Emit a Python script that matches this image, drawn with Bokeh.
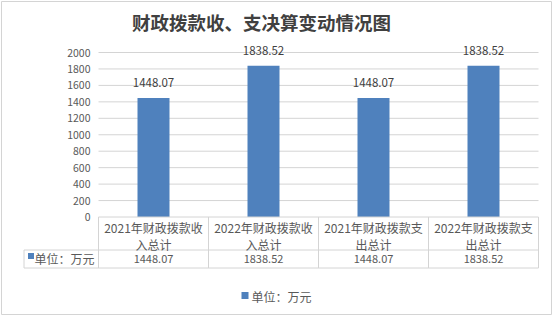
from bokeh.plotting import figure
from bokeh.models import Range1d
from bokeh.core.properties import value
from bokeh.embed import file_html
from bokeh.resources import INLINE

# ---- data ----
title_text = "财政拨款收、支决算变动情况图"
categories = ["2021年财政拨款收\n入总计", "2022年财政拨款收\n入总计",
              "2021年财政拨款支\n出总计", "2022年财政拨款支\n出总计"]
values = [1448.07, 1838.52, 1448.07, 1838.52]
value_labels = ["1448.07", "1838.52", "1448.07", "1838.52"]
series_name = "单位：万元"
y_ticks = [0, 200, 400, 600, 800, 1000, 1200, 1400, 1600, 1800, 2000]

# ---- layout (pixels) ----
W, H = 553, 315
FL, FT, FR, FB = 1, 1, 551, 314          # frame edges
CAT_L, CAT_W = 98, 110                    # category area left, column width
Y0_PX, YMAX_PX, YMAX = 216.5, 52.0, 2000  # value axis mapping
PPU = (Y0_PX - YMAX_PX) / YMAX

def xpx(px):
    return (px - CAT_L) / CAT_W

def ypx(py):
    return (Y0_PX - py) / PPU

FONT = value("Noto Sans CJK SC")
GRID = "#D4D4D4"
TXT = "#595959"
BAR = "#4F81BD"
n = len(categories)

p = figure(width=W, height=H, output_backend="svg", toolbar_location=None,
           x_range=Range1d(xpx(FL), xpx(FR)), y_range=Range1d(ypx(FB), ypx(FT)),
           min_border_left=FL, min_border_top=FT, min_border_right=W - FR,
           min_border_bottom=H - FB)
p.axis.visible = False
p.grid.visible = False
p.outline_line_color = GRID
p.outline_line_width = 1
p.background_fill_color = "white"
p.border_fill_color = "white"

# gridlines
gy = [t for t in y_ticks if t > 0]
p.segment(x0=[0] * len(gy), x1=[n] * len(gy), y0=gy, y1=gy, line_color=GRID, line_width=1)

# bars
xs = [i + 0.5 for i in range(n)]
p.vbar(x=xs, top=values, bottom=0, width=32 / CAT_W, color=BAR, line_color=None)

# data labels
p.text(x=xs, y=values, text=value_labels, text_align="center", text_baseline="middle",
       y_offset=-15, text_font=FONT, text_font_size="11.5px", text_color="#404040")

# y tick labels
p.text(x=[xpx(90)] * len(y_ticks), y=y_ticks, text=[str(t) for t in y_ticks],
       text_align="right", text_baseline="middle", text_font=FONT,
       text_font_size="10.5px", text_color=TXT)

# data table lines
ROW1, ROW2 = 249.5, 267.5
LEFT_HDR = 23.5
p.segment(x0=[0, xpx(LEFT_HDR), xpx(LEFT_HDR)], x1=[n, n, n],
          y0=[0, ypx(ROW1), ypx(ROW2)], y1=[0, ypx(ROW1), ypx(ROW2)],
          line_color=GRID, line_width=1)
vx = list(range(n + 1))
p.segment(x0=vx, x1=vx, y0=[0] * len(vx), y1=[ypx(ROW2)] * len(vx),
          line_color=GRID, line_width=1)
p.segment(x0=[xpx(LEFT_HDR)], x1=[xpx(LEFT_HDR)], y0=[ypx(ROW1)], y1=[ypx(ROW2)],
          line_color=GRID, line_width=1)

# category header text (two lines)
line1 = [c.split("\n")[0] for c in categories]
line2 = [c.split("\n")[1] for c in categories]
p.text(x=xs, y=[ypx(227)] * n, text=line1, text_align="center", text_baseline="middle",
       text_font=FONT, text_font_size="12px", text_color=TXT)
p.text(x=xs, y=[ypx(243.5)] * n, text=line2, text_align="center", text_baseline="middle",
       text_font=FONT, text_font_size="12px", text_color=TXT)

# value row
p.text(x=xs, y=[ypx(258.5)] * n, text=value_labels, text_align="center",
       text_baseline="middle", text_font=FONT, text_font_size="11px", text_color=TXT)

# row header with legend key
p.scatter(x=[xpx(30.5)], y=[ypx(255.5)], marker="square", size=6, color=BAR, line_color=None)
p.text(x=[xpx(34)], y=[ypx(257.5)], text=[series_name], text_align="left",
       text_baseline="middle", text_font=FONT, text_font_size="12px", text_color=TXT)

# legend
p.scatter(x=[xpx(244.5)], y=[ypx(295)], marker="square", size=7, color=BAR, line_color=None)
p.text(x=[xpx(251)], y=[ypx(295.5)], text=[series_name], text_align="left",
       text_baseline="middle", text_font=FONT, text_font_size="12px", text_color=TXT)

# title
p.text(x=[xpx(261)], y=[ypx(21.5)], text=[title_text], text_align="center",
       text_baseline="middle", text_font=FONT, text_font_size="18.5px",
       text_font_style="bold", text_color="#404040")

open("out.html", "w").write(file_html(p, INLINE))
